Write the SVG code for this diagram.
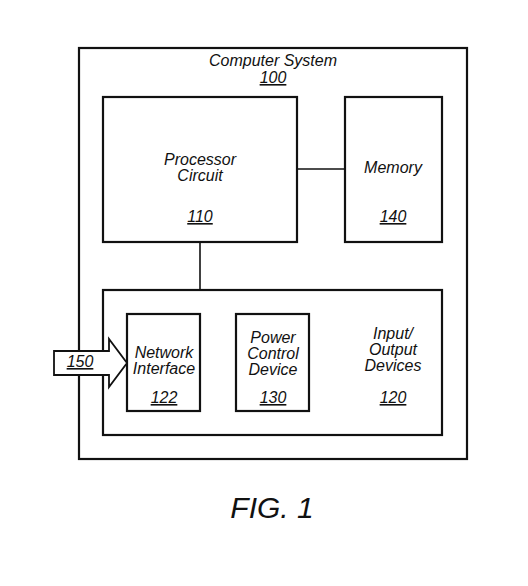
<svg xmlns="http://www.w3.org/2000/svg" width="528" height="586" viewBox="0 0 528 586">
<style>
.box{fill:none;stroke:#111;stroke-width:2.2}
.ln{stroke:#111;stroke-width:1.6;fill:none}
text{font-family:"Liberation Sans",Arial,sans-serif;font-style:italic;font-size:16px;fill:#111;text-anchor:middle}
.u{text-decoration:underline}
</style>
<rect width="528" height="586" fill="#fff"/>
<g id="computer-system">
<rect class="box" x="79" y="48" width="388" height="411"/>
<text x="273" y="66">Computer System</text>
<text class="u" x="273" y="83">100</text>
</g>
<g id="connectors">
<line class="ln" x1="297" y1="169" x2="345" y2="169"/>
<line class="ln" x1="200" y1="242" x2="200" y2="290"/>
</g>
<g id="processor">
<rect class="box" x="103" y="97" width="194" height="145"/>
<text x="200" y="165">Processor</text>
<text x="200" y="181">Circuit</text>
<text class="u" x="200" y="222">110</text>
</g>
<g id="memory">
<rect class="box" x="345" y="97" width="97" height="145"/>
<text x="393" y="173">Memory</text>
<text class="u" x="393" y="222">140</text>
</g>
<g id="io-devices">
<rect class="box" x="103" y="290" width="339" height="145"/>
<text x="393" y="339">Input/</text>
<text x="393" y="355">Output</text>
<text x="393" y="371">Devices</text>
<text class="u" x="393" y="403">120</text>
</g>
<g id="network-interface">
<rect class="box" x="127" y="314" width="73" height="97"/>
<text x="164" y="358">Network</text>
<text x="164" y="374">Interface</text>
<text class="u" x="164" y="403">122</text>
</g>
<g id="power-control">
<rect class="box" x="236" y="314" width="73" height="97"/>
<text x="273" y="343">Power</text>
<text x="273" y="359">Control</text>
<text x="273" y="375">Device</text>
<text class="u" x="273" y="403">130</text>
</g>
<g id="arrow-150">
<path d="M54,351 H109 V339 L127,363 L109,387 V375 H54 Z" fill="#fff" stroke="#111" stroke-width="1.8" stroke-linejoin="miter"/>
<text class="u" x="80" y="367">150</text>
</g>
<text x="272" y="518" style="font-size:30px">FIG. 1</text>
</svg>
